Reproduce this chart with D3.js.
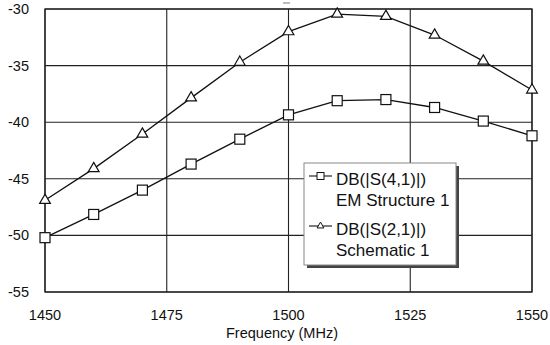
<!DOCTYPE html>
<html><head><meta charset="utf-8">
<script src="https://cdn.jsdelivr.net/npm/d3@7"></script>
<style>body{margin:0;background:#fff}svg{display:block}text{font-family:"Liberation Sans",Arial,sans-serif;fill:#111}</style>
</head><body><svg id="c" width="550" height="345"></svg>
<script>
const freqs = [1450,1460,1470,1480,1490,1500,1510,1520,1530,1540,1550];
const s41 = [-50.2,-48.15,-46.0,-43.7,-41.5,-39.35,-38.1,-38.0,-38.7,-39.9,-41.2];
const s21 = [-46.9,-44.1,-41.05,-37.85,-34.7,-32.0,-30.45,-30.65,-32.3,-34.6,-37.15];
const xTicks = [1450,1475,1500,1525,1550];
const yTicks = [-30,-35,-40,-45,-50,-55];
const legendLabels = [["DB(|S(4,1)|)","EM Structure 1"],["DB(|S(2,1)|)","Schematic 1"]];
const xTitle = "Frequency (MHz)";

const svg = d3.select("#c");
const L=45,R=532,T=9,B=292;
const x = d3.scaleLinear().domain([1450,1550]).range([L,R]);
const y = d3.scaleLinear().domain([-55,-30]).range([B,T]);

const g = svg.append("g");
// grid
g.selectAll(".gx").data(xTicks).join("line").attr("x1",d=>x(d)).attr("x2",d=>x(d)).attr("y1",T).attr("y2",B).attr("stroke","#222").attr("stroke-width",1.1);
g.selectAll(".gy").data(yTicks).join("line").attr("y1",d=>y(d)).attr("y2",d=>y(d)).attr("x1",L).attr("x2",R).attr("stroke","#222").attr("stroke-width",1.1);
g.append("rect").attr("x",L).attr("y",T).attr("width",R-L).attr("height",B-T).attr("fill","none").attr("stroke","#222").attr("stroke-width",1.3);
g.append("line").attr("x1",283).attr("x2",290).attr("y1",3).attr("y2",3).attr("stroke","#777").attr("stroke-width",1);

// tick labels
g.selectAll(".yl").data(yTicks).join("text").attr("x",29).attr("y",d=>y(d)+5).attr("text-anchor","end").attr("font-size",14.5).text(d=>d);
g.selectAll(".xl").data(xTicks).join("text").attr("x",d=>x(d)).attr("y",320).attr("text-anchor","middle").attr("font-size",14.5).text(d=>d);
g.append("text").attr("x",282).attr("y",338).attr("text-anchor","middle").attr("font-size",14.5).text(xTitle);

const line = d3.line().x((d,i)=>x(freqs[i])).y(d=>y(d));
const tri = d3.symbol().type(d3.symbolTriangle).size(50);
function drawSeries(vals, kind){
  g.append("path").attr("d",line(vals)).attr("fill","none").attr("stroke","#111").attr("stroke-width",1.3);
  const pts = vals.map((v,i)=>[x(freqs[i]),y(v)]);
  if(kind==="sq"){
    g.selectAll(null).data(pts).join("rect").attr("x",d=>d[0]-5).attr("y",d=>d[1]-5).attr("width",10).attr("height",10).attr("fill","#fff").attr("stroke","#111").attr("stroke-width",1.2);
  } else {
    g.selectAll(null).data(pts).join("path").attr("d",tri).attr("transform",d=>`translate(${d[0]},${d[1]})`).attr("fill","#fff").attr("stroke","#111").attr("stroke-width",1.2);
  }
}
drawSeries(s41,"sq");
drawSeries(s21,"tri");

// legend
const lx=304, ly=163, lw=152, lh=102;
g.append("rect").attr("x",lx+3).attr("y",ly+3).attr("width",lw).attr("height",lh).attr("fill","#444");
g.append("rect").attr("x",lx).attr("y",ly).attr("width",lw).attr("height",lh).attr("fill","#fff").attr("stroke","#888").attr("stroke-width",1);
const rows=[{y:185,kind:"sq"},{y:235,kind:"tri"}];
rows.forEach((r,i)=>{
  const cy=r.y-9;
  g.append("line").attr("x1",309).attr("x2",332).attr("y1",cy).attr("y2",cy).attr("stroke","#111").attr("stroke-width",1.1);
  if(r.kind==="sq") g.append("rect").attr("x",317).attr("y",cy-3.5).attr("width",7).attr("height",7).attr("fill","#fff").attr("stroke","#111");
  else g.append("path").attr("d",d3.symbol().type(d3.symbolTriangle).size(20)()).attr("transform",`translate(320.5,${cy})`).attr("fill","#fff").attr("stroke","#111");
  g.append("text").attr("x",336).attr("y",r.y).attr("font-size",17).text(legendLabels[i][0]);
  g.append("text").attr("x",336).attr("y",r.y+20.5).attr("font-size",17).text(legendLabels[i][1]);
});
</script></body></html>
